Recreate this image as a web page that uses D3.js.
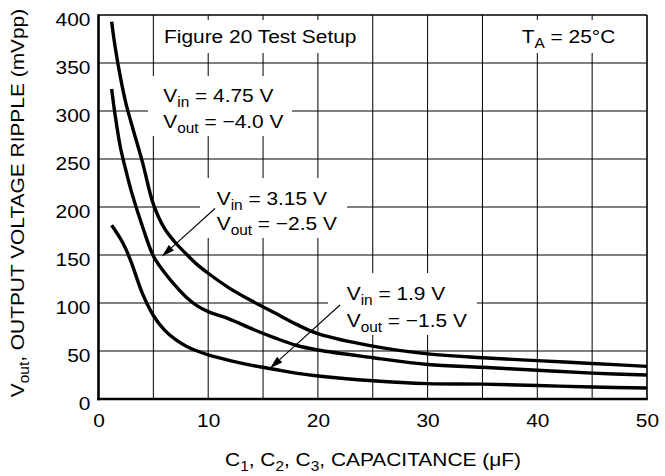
<!DOCTYPE html>
<html>
<head>
<meta charset="utf-8">
<script src="https://cdn.jsdelivr.net/npm/d3@7/dist/d3.min.js"></script>
<style>
  html, body { margin: 0; padding: 0; background: #fff; }
  svg { display: block; }
  text { font-family: 'Liberation Sans', Arial, Helvetica, sans-serif; fill: #000; }
</style>
</head>
<body>
<svg id="chart" width="665" height="476"></svg>
<script>
// ---- data ----
const capacitance = [1.2, 1.5, 2, 2.5, 3, 4, 5, 6, 7, 8, 9, 10, 12, 14, 16, 18, 20, 25, 30, 35, 40, 45, 50];
const ripple475 = [393, 368, 335, 308, 287, 247, 203, 178, 163, 151, 140, 131, 115, 102, 90, 78, 68, 55, 47, 43, 40, 37, 34];
const ripple315 = [323, 297, 262, 238, 216, 180, 149, 132, 118, 106, 97, 91, 83, 73, 64, 56, 51, 43, 36, 33, 30, 27, 25];
const ripple190 = [181, 176, 167, 156, 142, 110, 87, 72, 62, 55, 50, 46, 40, 35, 31, 27, 24, 19, 16, 15.5, 14, 12.5, 11.5];
const xTicks = [0, 10, 20, 30, 40, 50];
const yTicks = [0, 50, 100, 150, 200, 250, 300, 350, 400];
const xGrid = [5, 10, 15, 20, 25, 30, 35, 40, 45];
const yGrid = [50, 100, 150, 200, 250, 300, 350];

const SX = 1.1;       // horizontal stretch of the lettering
const FS = 19;        // main font size
const SUB = 14;       // subscript font size

const svg = d3.select('#chart');
const x = d3.scaleLinear().domain([0, 50]).range([98.5, 647]);
const y = d3.scaleLinear().domain([0, 400]).range([399, 15]);

// grid
svg.append('g').selectAll('line').data(xGrid).join('line')
  .attr('x1', d => x(d)).attr('x2', d => x(d)).attr('y1', y(400)).attr('y2', y(0))
  .attr('stroke', '#000').attr('stroke-width', 1);
svg.append('g').selectAll('line').data(yGrid).join('line')
  .attr('y1', d => y(d)).attr('y2', d => y(d)).attr('x1', x(0)).attr('x2', x(50))
  .attr('stroke', '#000').attr('stroke-width', 1);

// white label backgrounds (break the grid)
const boxes = [
  [156, 20, 212, 33],
  [513, 20, 110, 33],
  [148, 76, 144, 60],
  [200, 178, 147, 60],
  [328, 273, 149, 62]
];
svg.append('g').selectAll('rect').data(boxes).join('rect')
  .attr('x', d => d[0]).attr('y', d => d[1]).attr('width', d => d[2]).attr('height', d => d[3])
  .attr('fill', '#fff');

// curves
const line = d3.line().x((d, i) => x(capacitance[i])).y(d => y(d)).curve(d3.curveCatmullRom.alpha(0.5));
[ripple475, ripple315, ripple190].forEach(s => {
  svg.append('path').datum(s).attr('d', line)
    .attr('fill', 'none').attr('stroke', '#000').attr('stroke-width', 3.4)
    .attr('stroke-linejoin', 'round').attr('stroke-linecap', 'butt');
});

// arrows
function arrow(x1, y1, x2, y2) {
  const a = Math.atan2(y2 - y1, x2 - x1);
  const L = 13, W = 3.8;
  const bx = x2 - L * Math.cos(a), by = y2 - L * Math.sin(a);
  svg.append('line').attr('x1', x1).attr('y1', y1).attr('x2', bx).attr('y2', by)
    .attr('stroke', '#000').attr('stroke-width', 1.1);
  const px = -Math.sin(a) * W, py = Math.cos(a) * W;
  svg.append('path')
    .attr('d', `M${x2},${y2}L${bx + px},${by + py}L${bx - px},${by - py}Z`)
    .attr('fill', '#000');
}
arrow(215, 208.5, 161.7, 256.5);
arrow(340, 305, 270, 368.3);

// text helper: parts = [[text, isSub], ...]
function label(parts, tx, ty, anchor, rot) {
  const g = svg.append('g')
    .attr('transform', `translate(${tx},${ty})${rot ? ' rotate(' + rot + ')' : ''} scale(${SX},1)`);
  const t = g.append('text').attr('text-anchor', anchor || 'start').attr('font-size', FS);
  let sub = false;
  parts.forEach(p => {
    const ts = t.append('tspan').text(p[0]);
    if (p[1] && !sub) { ts.attr('font-size', SUB).attr('dy', 5); sub = true; }
    else if (p[1]) { ts.attr('font-size', SUB); }
    else if (sub) { ts.attr('dy', -5); sub = false; }
  });
  return t;
}

label([['Figure 20 Test Setup']], 164, 43);
label([['T'], ['A', 1], [' = 25°C']], 521.7, 43);
label([['V'], ['in', 1], [' = 4.75 V']], 163.3, 102);
label([['V'], ['out', 1], [' = \u22124.0 V']], 163.3, 128);
label([['V'], ['in', 1], [' = 3.15 V']], 216.7, 205);
label([['V'], ['out', 1], [' = \u22122.5 V']], 216.7, 230);
label([['V'], ['in', 1], [' = 1.9 V']], 346.7, 300);
label([['V'], ['out', 1], [' = \u22121.5 V']], 346.7, 327);

// axis titles
label([['C'], ['1', 1], [', C'], ['2', 1], [', C'], ['3', 1], [', CAPACITANCE (\u03BCF)']], 373, 466, 'middle');
label([['V'], ['out', 1], [', OUTPUT VOLTAGE RIPPLE (mVpp)']], 24, 203, 'middle', -90);

// tick labels via d3 axes
const ax = svg.append('g').attr('transform', `translate(0,${y(0)})`)
  .call(d3.axisBottom(x).tickValues(xTicks).tickSize(0).tickFormat(d3.format('d')));
ax.select('.domain').remove();
ax.selectAll('text').attr('y', 28.3).attr('dy', 0)
  .attr('font-size', FS).attr('font-family', "'Liberation Sans', Arial, sans-serif")
  .attr('fill', '#000').attr('transform', `scale(${SX},1)`);

const ay = svg.append('g').attr('transform', `translate(${x(0)},0)`)
  .call(d3.axisLeft(y).tickValues(yTicks).tickSize(0).tickFormat(d3.format('d')));
ay.select('.domain').remove();
ay.selectAll('text').attr('x', -7.3).attr('dy', 0).attr('y', 10.5)
  .attr('font-size', FS).attr('font-family', "'Liberation Sans', Arial, sans-serif")
  .attr('fill', '#000').attr('transform', `scale(${SX},1)`);

// frame
svg.append('line').attr('x1', x(0)).attr('x2', x(50)).attr('y1', y(400)).attr('y2', y(400))
  .attr('stroke', '#000').attr('stroke-width', 1.6);
svg.append('line').attr('x1', x(50)).attr('x2', x(50)).attr('y1', y(400)).attr('y2', y(0))
  .attr('stroke', '#000').attr('stroke-width', 1.6);
svg.append('line').attr('x1', x(0)).attr('x2', x(0)).attr('y1', y(400) - 0.8).attr('y2', y(0) + 1.2)
  .attr('stroke', '#000').attr('stroke-width', 2.6);
svg.append('line').attr('x1', x(0) - 1.3).attr('x2', x(50) + 0.8).attr('y1', y(0)).attr('y2', y(0))
  .attr('stroke', '#000').attr('stroke-width', 2.6);
</script>
</body>
</html>
